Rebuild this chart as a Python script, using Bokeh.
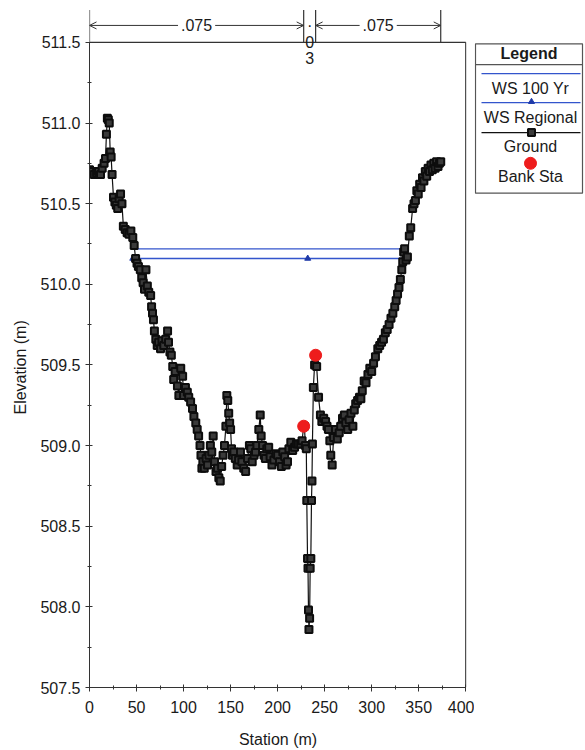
from bokeh.plotting import figure
from bokeh.models import Range1d, FixedTicker, Arrow, OpenHead, Label, PrintfTickFormatter, Title
from bokeh.layouts import row
from bokeh.embed import file_html
from bokeh.resources import INLINE

# ---------------- data ----------------
station = [0.0, 2.5, 5.0, 7.5, 9.6, 11.7, 13.5, 15.5, 17.0, 18.0, 19.0, 20.0, 21.0, 22.0, 23.0, 24.0,
           25.5, 27.0, 28.5, 30.0, 31.5, 33.0, 34.5, 36.0, 38.0, 40.0, 42.0, 44.0, 46.0, 47.5, 49.0,
           50.5, 52.0, 54.0, 55.5, 57.0, 58.5, 60.0, 61.5, 63.0, 65.0, 66.0, 67.0, 68.0, 69.0, 70.5,
           72.0, 73.5, 75.5, 77.0, 79.0, 81.0, 83.0, 84.0, 85.5, 87.0, 88.5, 89.5, 91.0, 93.5, 95.0,
           97.0, 99.0, 100.0, 102.0, 104.0, 105.5, 107.5, 109.5, 111.0, 113.0, 114.5, 116.0, 117.5,
           118.5, 119.5, 120.5, 122.0, 124.0, 125.5, 127.0, 128.5, 130.0, 131.5, 133.0, 134.5, 136.0,
           137.5, 139.0, 140.5, 142.0, 143.5, 145.0, 146.0, 147.0, 148.0, 149.0, 150.0, 151.0, 152.0,
           153.5, 155.0, 157.0, 158.5, 160.5, 162.0, 164.0, 166.0, 168.0, 170.0, 171.5, 173.0, 175.0,
           176.5, 178.0, 180.0, 181.5, 182.5, 184.0, 185.5, 187.0, 188.5, 190.5, 192.0, 194.0, 196.0,
           198.0, 200.0, 202.0, 204.0, 205.5, 207.5, 209.0, 210.5, 212.0, 214.0, 216.0, 218.0, 220.0,
           222.0, 224.5, 226.0, 227.7, 228.5, 229.5, 230.5, 231.0, 231.8, 232.3, 232.8, 233.3, 234.0,
           234.6, 235.3, 236.0, 236.5, 237.0, 238.0, 239.3, 240.4, 241.5, 243.5, 245.5, 247.0, 249.0,
           251.0, 252.5, 254.0, 255.5, 256.5, 258.0, 259.5, 261.5, 263.5, 265.5, 267.0, 269.0, 271.0,
           272.5, 274.5, 276.0, 278.0, 280.0, 281.5, 283.0, 285.0, 287.0, 288.5, 290.0, 292.0, 294.0,
           296.0, 298.0, 300.0, 302.0, 304.0, 306.5, 308.5, 310.5, 312.5, 314.5, 316.5, 318.5, 320.5,
           322.5, 324.5, 326.0, 327.5, 329.0, 330.5, 332.0, 333.0, 334.0, 335.0, 336.5, 338.0, 340.0,
           341.5, 343.5, 345.0, 346.5, 348.0, 349.5, 351.0, 352.5, 354.0, 355.5, 357.0, 358.5, 360.0,
           361.5, 363.0, 364.5, 366.0, 367.5, 369.0, 370.5, 372.0, 373.4]
elevation = [510.71, 510.70, 510.68, 510.69, 510.70, 510.68, 510.72, 510.75, 510.78, 510.93, 511.03,
             511.02, 511.00, 510.82, 510.79, 510.68, 510.54, 510.51, 510.49, 510.47, 510.53, 510.56,
             510.50, 510.36, 510.34, 510.32, 510.31, 510.33, 510.29, 510.24, 510.16, 510.13, 510.11,
             510.09, 510.04, 510.01, 509.97, 510.09, 509.99, 509.95, 509.93, 509.86, 509.82, 509.78,
             509.71, 509.66, 509.62, 509.64, 509.60, 509.65, 509.62, 509.66, 509.71, 509.64, 509.58,
             509.56, 509.49, 509.41, 509.46, 509.37, 509.31, 509.48, 509.43, 509.31, 509.36, 509.33,
             509.30, 509.27, 509.23, 509.18, 509.14, 509.10, 509.06, 509.00, 508.94, 508.86, 508.90,
             508.86, 508.92, 508.88, 508.94, 509.00, 508.96, 509.06, 508.90, 508.84, 508.86, 508.80,
             508.78, 508.87, 508.94, 509.00, 509.12, 509.31, 509.28, 509.20, 509.14, 509.10, 508.98,
             508.94, 508.96, 508.92, 508.88, 508.91, 508.96, 508.90, 508.86, 508.84, 508.92, 509.00,
             508.98, 508.90, 508.94, 508.96, 509.00, 509.10, 509.19, 509.06, 509.00, 508.94, 508.92,
             508.98, 508.99, 508.93, 508.88, 508.91, 508.95, 508.94, 508.90, 508.87, 508.96, 508.93,
             508.88, 508.90, 508.98, 509.02, 508.97, 508.99, 509.01, 509.01, 509.01, 509.03, 509.12,
             509.12, 509.00, 508.98, 508.66, 508.30, 508.24, 507.98, 507.86, 507.93, 508.24, 508.30,
             508.66, 508.78, 509.01, 509.36, 509.50, 509.56, 509.49, 509.30, 509.19, 509.15, 509.17,
             509.15, 509.12, 509.10, 509.03, 508.94, 508.88, 509.05, 509.10, 509.04, 509.08, 509.12,
             509.17, 509.19, 509.14, 509.10, 509.16, 509.20, 509.12, 509.22, 509.26, 509.28, 509.30,
             509.29, 509.34, 509.40, 509.39, 509.44, 509.48, 509.46, 509.51, 509.55, 509.60, 509.62,
             509.64, 509.66, 509.70, 509.72, 509.75, 509.79, 509.82, 509.86, 509.90, 509.94, 509.98,
             510.03, 510.09, 510.14, 510.20, 510.22, 510.15, 510.17, 510.30, 510.35, 510.47, 510.50,
             510.52, 510.58, 510.56, 510.62, 510.60, 510.66, 510.64, 510.70, 510.67, 510.72, 510.70,
             510.74, 510.71, 510.75, 510.72, 510.76, 510.73, 510.75, 510.76]

bank_sta = [227.7, 240.4]
bank_elev = [509.12, 509.56]

ws100_sta = [46.8, 331.5]
ws100_elev = [510.22, 510.22]

wsreg_sta = [46.0, 232.0, 334.5]
wsreg_elev = [510.16, 510.16, 510.16]

mann_sta = [0.0, 227.7, 240.4, 373.4]     # Manning's n break stations
mann_n = [".075", ".03", ".075"]

x_ticks = [0, 50, 100, 150, 200, 250, 300, 350, 400]
x_minor = [25, 75, 125, 175, 225, 275, 325, 375]
y_ticks = [507.5, 508.0, 508.5, 509.0, 509.5, 510.0, 510.5, 511.0, 511.5]
y_minor = [507.75, 508.25, 508.75, 509.25, 509.75, 510.25, 510.75, 511.25]

FONT = "Liberation Sans"
FS = "16px"
BLUE = "#3355cc"
TXT = "#1a1a1a"

# ---------------- main figure ----------------
p = figure(width=474, height=750, x_range=Range1d(0, 400.8), y_range=Range1d(507.5, 511.71),
           output_backend="svg", toolbar_location=None,
           min_border_left=89, min_border_right=8, min_border_top=8, min_border_bottom=60)
p.outline_line_color = None
p.xgrid.visible = False
p.ygrid.visible = False
p.background_fill_color = "white"

for ax in (p.xaxis[0], p.yaxis[0]):
    ax.axis_line_color = "#333333"
    ax.major_tick_line_color = "#333333"
    ax.minor_tick_line_color = "#333333"
    ax.major_tick_in = 3
    ax.major_tick_out = 4
    ax.minor_tick_in = 2
    ax.minor_tick_out = 2
    ax.major_label_text_font = FONT
    ax.major_label_text_font_size = FS
    ax.major_label_text_color = TXT
    ax.axis_label_text_font = FONT
    ax.axis_label_text_font_size = FS
    ax.axis_label_text_font_style = "normal"
    ax.axis_label_text_color = TXT

p.xaxis.ticker = FixedTicker(ticks=x_ticks, minor_ticks=x_minor)
p.yaxis.ticker = FixedTicker(ticks=y_ticks, minor_ticks=y_minor)
p.yaxis.formatter = PrintfTickFormatter(format="%.1f")
p.xaxis.axis_label = "Station (m)"
p.xaxis.major_label_standoff = 9
p.xaxis.axis_label_standoff = 15
p.yaxis.major_label_standoff = 5
p.yaxis.bounds = (507.5, 511.5)
p.xaxis.bounds = (0, 400)

# y-axis title, placed along the 507.5-511.5 axis
p.add_layout(Title(text="Elevation (m)", align="left", offset=273, text_font=FONT,
                   text_font_size=FS, text_font_style="normal", text_color=TXT,
                   standoff=18), "left")

# plot box (top and right edges)
p.segment(x0=[0, 400], y0=[511.5, 507.5], x1=[400, 400], y1=[511.5, 511.5],
          line_color="#333333", line_width=1.2)

# Manning's n dimension lines above the plot
p.segment(x0=mann_sta, y0=[511.5] * 4, x1=mann_sta, y1=[511.70] * 4,
          line_color="#333333", line_width=1.2)
for i in (0, 2):
    a, b = mann_sta[i], mann_sta[i + 1]
    p.add_layout(Arrow(start=OpenHead(size=7, line_color="#333333", line_width=1),
                       end=OpenHead(size=7, line_color="#333333", line_width=1),
                       x_start=a, x_end=b, y_start=511.605, y_end=511.605,
                       line_color="#333333", line_width=1))
    p.add_layout(Label(x=(a + b) / 2, y=511.605, text=mann_n[i], text_align="center",
                       text_baseline="middle", text_font=FONT, text_font_size=FS,
                       text_color=TXT, background_fill_color="white", padding=3))
mid = (mann_sta[1] + mann_sta[2]) / 2
for ch, yy in zip(mann_n[1], [511.635, 511.50, 511.40]):
    p.add_layout(Label(x=mid, y=yy, text=ch, text_align="center", text_baseline="middle",
                       text_font=FONT, text_font_size=FS, text_color=TXT))

# water surfaces
p.line(ws100_sta, ws100_elev, line_color=BLUE, line_width=1.3)
p.line(wsreg_sta, wsreg_elev, line_color=BLUE, line_width=1.3)
p.scatter(wsreg_sta, wsreg_elev, marker="triangle", size=6, fill_color="#1f3aa8",
          line_color="#1f3aa8")

# ground
p.line(station, elevation, line_color="#111111", line_width=1.2)
p.scatter(station, elevation, marker="square", size=7, fill_color="#3a3a3a",
          line_color="#0d0d0d", line_width=2)

# bank stations
p.scatter(bank_sta, bank_elev, marker="circle", size=12, fill_color="#ee1c1c",
          line_color="#ee1c1c")

# ---------------- legend figure ----------------
lg = figure(width=111, height=750, x_range=Range1d(474, 585), y_range=Range1d(750, 0),
            output_backend="svg", toolbar_location=None,
            min_border_left=0, min_border_right=0, min_border_top=0, min_border_bottom=0)
lg.axis.visible = False
lg.grid.visible = False
lg.outline_line_color = None

lg.quad(left=[475], right=[582], top=[39], bottom=[204], fill_color="white",
        line_color="#555555", line_width=1.2)
lg.segment(x0=[475], y0=[62], x1=[582], y1=[62], line_color="#555555", line_width=1.2)

lg.add_layout(Label(x=528.5, y=50, text="Legend", text_align="center", text_baseline="middle",
                    text_font=FONT, text_font_size=FS, text_font_style="bold",
                    text_color=TXT))
lg.segment(x0=[481], y0=[72], x1=[580], y1=[72], line_color=BLUE, line_width=1.3)
lg.add_layout(Label(x=530, y=88, text="WS 100 Yr", text_align="center", text_baseline="middle",
                    text_font=FONT, text_font_size=FS, text_color=TXT))
lg.segment(x0=[481], y0=[104], x1=[580], y1=[104], line_color=BLUE, line_width=1.3)
lg.scatter([531], [103], marker="triangle", size=6, fill_color="#1f3aa8", line_color="#1f3aa8")
lg.add_layout(Label(x=530, y=120, text="WS Regional", text_align="center", text_baseline="middle",
                    text_font=FONT, text_font_size=FS, text_color=TXT))
lg.segment(x0=[481], y0=[137], x1=[580], y1=[137], line_color="#111111", line_width=1.2)
lg.scatter([531], [137], marker="square", size=7, fill_color="#3a3a3a", line_color="#0d0d0d",
           line_width=2)
lg.add_layout(Label(x=530, y=152, text="Ground", text_align="center", text_baseline="middle",
                    text_font=FONT, text_font_size=FS, text_color=TXT))
lg.scatter([530], [171], marker="circle", size=12, fill_color="#ee1c1c", line_color="#ee1c1c")
lg.add_layout(Label(x=530, y=186, text="Bank Sta", text_align="center", text_baseline="middle",
                    text_font=FONT, text_font_size=FS, text_color=TXT))

layout = row(p, lg, spacing=0)
open("out.html", "w").write(file_html(layout, INLINE))
